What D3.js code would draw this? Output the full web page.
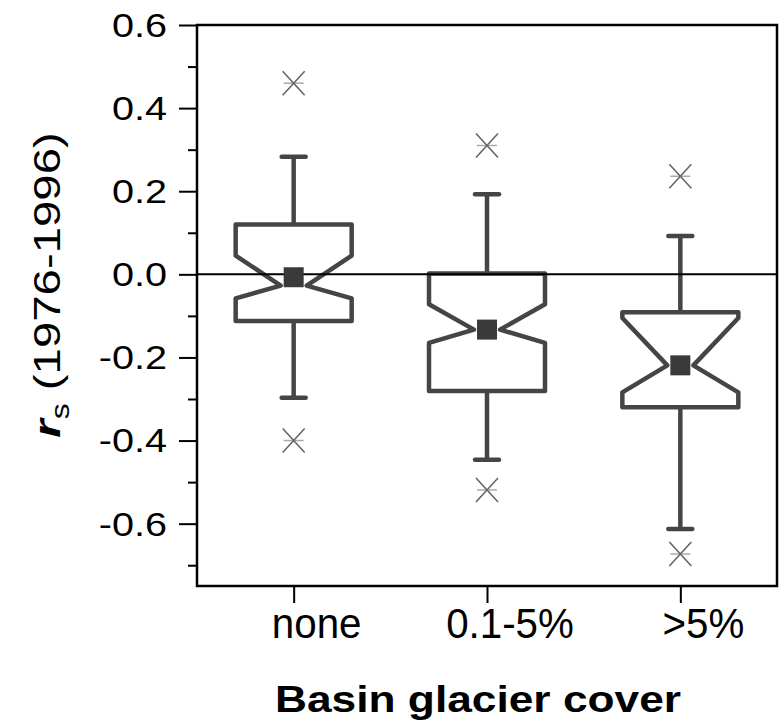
<!DOCTYPE html>
<html>
<head>
<meta charset="utf-8">
<script src="https://cdn.jsdelivr.net/npm/d3@7"></script>
<style>
  html, body { margin: 0; padding: 0; background: #fff; }
  svg { display: block; font-family: "Liberation Sans", Arial, sans-serif; }
</style>
</head>
<body>
<svg id="chart" width="780" height="721"></svg>
<script>
// Glacier-cover classes and the box statistics of r_s per class
const categories   = ["none", "0.1-5%", ">5%"];
const whiskerHigh  = [0.283, 0.193, 0.092];
const q3           = [0.120, 0.002, -0.091];
const notchHigh    = [0.045, -0.072, -0.105];
const median       = [-0.027, -0.133, -0.219];
const notchLow     = [-0.058, -0.165, -0.284];
const q1           = [-0.112, -0.281, -0.320];
const whiskerLow   = [-0.297, -0.446, -0.613];
const meanValue    = [-0.007, -0.133, -0.219];
const outlierHigh  = [0.460, 0.310, 0.236];
const outlierLow   = [-0.400, -0.519, -0.673];

const yMajorTicks = [0.6, 0.4, 0.2, 0.0, -0.2, -0.4, -0.6];
const yMinorTicks = [0.5, 0.3, 0.1, -0.1, -0.3, -0.5, -0.7];

const svg = d3.select("#chart");
const plotLeft = 197, plotRight = 777, plotTop = 25, plotBottom = 586;

const x = d3.scaleLinear().domain([0.5, 3.5]).range([plotLeft, plotRight]);
const y = d3.scaleLinear().domain([-0.75, 0.6]).range([plotBottom, plotTop]);

const ink = "#454545";

// y axis: major and minor ticks on the outside
const yMajor = svg.append("g").attr("transform", `translate(${plotLeft},0)`)
  .call(d3.axisLeft(y).tickValues(yMajorTicks).tickSize(18).tickFormat(""));
const yMinor = svg.append("g").attr("transform", `translate(${plotLeft},0)`)
  .call(d3.axisLeft(y).tickValues(yMinorTicks).tickSize(9).tickFormat(""));
[yMajor, yMinor].forEach(g => {
  g.select(".domain").remove();
  g.selectAll(".tick line").attr("stroke", "#000").attr("stroke-width", 2);
});

// y tick labels
svg.append("g").selectAll("text").data(yMajorTicks).join("text")
  .attr("transform", d => `translate(167,${y(d)}) scale(1.2,1)`)
  .attr("dy", "0.36em")
  .attr("text-anchor", "end")
  .attr("font-size", 33)
  .attr("fill", "#000")
  .text(d => d.toFixed(1));

// x axis ticks
const xAxis = svg.append("g").attr("transform", `translate(0,${plotBottom})`)
  .call(d3.axisBottom(x).tickValues([1, 2, 3]).tickSize(17).tickFormat(""));
xAxis.select(".domain").remove();
xAxis.selectAll(".tick line").attr("stroke", "#000").attr("stroke-width", 2);

// x tick labels
svg.append("g").selectAll("text").data(categories).join("text")
  .attr("transform", (d, i) => `translate(${x(i + 1) + 23},638) scale(0.96,1)`)
  .attr("text-anchor", "middle")
  .attr("font-size", 42)
  .attr("fill", "#000")
  .text(d => d);

// boxes
const boxHalf = 58, notchHalf = 13, capHalf = 12;
const boxes = svg.append("g");
categories.forEach((c, i) => {
  const cx = x(i + 1);
  // whiskers
  boxes.append("line").attr("x1", cx).attr("x2", cx)
    .attr("y1", y(whiskerHigh[i])).attr("y2", y(q3[i]))
    .attr("stroke", ink).attr("stroke-width", 4.5);
  boxes.append("line").attr("x1", cx).attr("x2", cx)
    .attr("y1", y(q1[i])).attr("y2", y(whiskerLow[i]))
    .attr("stroke", ink).attr("stroke-width", 4.5);
  [whiskerHigh[i], whiskerLow[i]].forEach(v => {
    boxes.append("line").attr("x1", cx - capHalf).attr("x2", cx + capHalf)
      .attr("y1", y(v)).attr("y2", y(v))
      .attr("stroke", ink).attr("stroke-width", 4.5).attr("stroke-linecap", "round");
  });
  // notched box outline
  const pts = [
    [cx - boxHalf, y(q3[i])],
    [cx - boxHalf, y(notchHigh[i])],
    [cx - notchHalf, y(median[i])],
    [cx - boxHalf, y(notchLow[i])],
    [cx - boxHalf, y(q1[i])],
    [cx + boxHalf, y(q1[i])],
    [cx + boxHalf, y(notchLow[i])],
    [cx + notchHalf, y(median[i])],
    [cx + boxHalf, y(notchHigh[i])],
    [cx + boxHalf, y(q3[i])]
  ];
  boxes.append("path")
    .attr("d", d3.line()(pts) + "Z")
    .attr("fill", "#fff").attr("stroke", ink).attr("stroke-width", 4.5)
    .attr("stroke-linejoin", "round");
});

// zero reference line
svg.append("line").attr("x1", plotLeft).attr("x2", plotRight)
  .attr("y1", y(0)).attr("y2", y(0))
  .attr("stroke", "#000").attr("stroke-width", 2);

// mean markers
svg.append("g").selectAll("rect").data(meanValue).join("rect")
  .attr("x", (d, i) => x(i + 1) - 10).attr("y", d => y(d) - 10)
  .attr("width", 20).attr("height", 20)
  .attr("fill", "#3a3a3a");

// outliers drawn as crosses
const outliers = [];
categories.forEach((c, i) => {
  outliers.push({ i, v: outlierHigh[i] });
  outliers.push({ i, v: outlierLow[i] });
});
const og = svg.append("g").selectAll("g").data(outliers).join("g")
  .attr("transform", d => `translate(${x(d.i + 1)},${y(d.v)})`);
og.append("line").attr("x1", -10).attr("x2", 10).attr("y1", 0).attr("y2", 0)
  .attr("stroke", "#aaa").attr("stroke-width", 1.5);
og.append("path").attr("d", "M-11,-12L11,12M-11,12L11,-12")
  .attr("stroke", "#666").attr("stroke-width", 1.6).attr("fill", "none");

// plot frame
svg.append("rect").attr("x", plotLeft).attr("y", plotTop)
  .attr("width", plotRight - plotLeft).attr("height", plotBottom - plotTop)
  .attr("fill", "none").attr("stroke", "#000").attr("stroke-width", 2.5);

// axis titles
svg.append("text")
  .attr("transform", `translate(478,712) scale(1.23,1)`)
  .attr("text-anchor", "middle")
  .attr("font-size", 36).attr("font-weight", "bold")
  .attr("fill", "#000")
  .text("Basin glacier cover");

const yTitle = svg.append("text")
  .attr("transform", `translate(60,285) rotate(-90) scale(1.28,1)`)
  .attr("text-anchor", "middle")
  .attr("font-size", 37)
  .attr("fill", "#000");
yTitle.append("tspan").attr("font-weight", "bold").attr("font-style", "italic").text("r");
yTitle.append("tspan").attr("font-size", 25).attr("dy", 9).text("s");
yTitle.append("tspan").attr("dy", -9).text(" (1976-1996)");
</script>
</body>
</html>
